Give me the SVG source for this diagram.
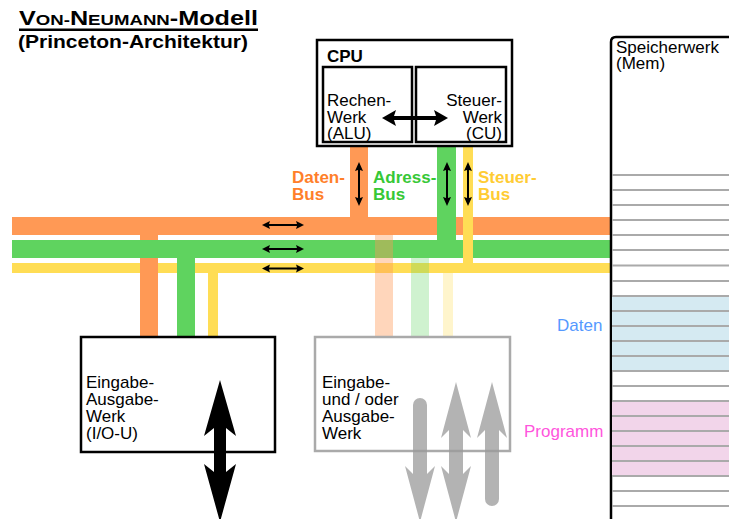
<svg xmlns="http://www.w3.org/2000/svg" width="729" height="519" viewBox="0 0 729 519">
<style>
  text { font-family: "Liberation Sans", Arial, sans-serif; }
  .t { font-size: 17px; fill: #000; }
  .b { font-weight: bold; }
  .box { fill: #fff; stroke: #000; stroke-width: 2.5; }
  .or { fill: #ff9955; }
  .gr { fill: #5fd35f; }
  .ye { fill: #ffdd55; }
  .cell { stroke: #aaaaaa; stroke-width: 1.8; }
  .ga { fill: #999; opacity: 0.75; }
</style>
<defs>
  <polygon id="sarrH" points="-21,0 -13,-4 -14,-1 14,-1 13,-4 21,0 13,4 14,1 -14,1 -13,4" fill="#000"/>
  <polygon id="sarrV" points="0,-22 4,-13 1,-14 1,14 4,13 0,22 -4,13 -1,14 -1,-14 -4,-13" fill="#000"/>
</defs>
<rect width="729" height="519" fill="#fff"/>

<g id="title">
  <text x="19" y="25" class="b" font-size="21" textLength="239" lengthAdjust="spacingAndGlyphs">V<tspan font-size="15.5">ON-</tspan>N<tspan font-size="15.5">EUMANN</tspan>-Modell</text>
  <rect x="19" y="28.5" width="239" height="2.5" fill="#000"/>
  <text x="18" y="48" class="b" font-size="19" textLength="230" lengthAdjust="spacingAndGlyphs">(Princeton-Architektur)</text>
</g>

<g id="connectors">
  <rect x="12" y="263" width="600" height="10" class="ye"/>
  <rect x="140" y="235" width="18" height="102" class="or"/>
  <rect x="12" y="217" width="600" height="18" class="or"/>
  <rect x="12" y="240" width="600" height="18" class="gr"/>
  <rect x="177" y="258" width="18" height="79" class="gr"/>
  <rect x="437" y="146" width="19" height="112" class="gr"/>
  <rect x="463" y="146" width="10" height="127" class="ye"/>
  <rect x="208" y="273" width="10" height="64" class="ye"/>
  <rect x="350" y="146" width="18" height="71" class="or"/>
  <rect x="375" y="235" width="18" height="102" class="or" opacity="0.4"/>
  <rect x="411" y="258" width="18" height="79" class="gr" opacity="0.3"/>
  <rect x="443" y="273" width="10" height="64" class="ye" opacity="0.3"/>
  <use href="#sarrH" x="283" y="225"/>
  <use href="#sarrH" x="283" y="249"/>
  <use href="#sarrH" x="283" y="268.5"/>
  <use href="#sarrV" x="359" y="184"/>
  <use href="#sarrV" x="447" y="184"/>
  <use href="#sarrV" x="468" y="184"/>
  <text x="292" y="183" class="b" font-size="17" fill="#ff7f2a">Daten-</text>
  <text x="292" y="200" class="b" font-size="17" fill="#ff7f2a">Bus</text>
  <text x="373" y="183" class="b" font-size="17" fill="#37c837">Adress-</text>
  <text x="373" y="200" class="b" font-size="17" fill="#37c837">Bus</text>
  <text x="478" y="183" class="b" font-size="17" fill="#ffcc33">Steuer-</text>
  <text x="478" y="200" class="b" font-size="17" fill="#ffcc33">Bus</text>
</g>

<g id="cpu">
  <rect x="317" y="40" width="195" height="106" class="box" stroke-width="3"/>
  <text x="327" y="62" class="t b" font-size="18">CPU</text>
  <g id="alu">
    <rect x="323" y="67" width="89" height="75" class="box" stroke-width="2"/>
    <text x="327" y="106" class="t">Rechen-</text>
    <text x="327" y="122.5" class="t">Werk</text>
    <text x="327" y="139" class="t">(ALU)</text>
  </g>
  <g id="cu">
    <rect x="416" y="67" width="90" height="75" class="box" stroke-width="2"/>
    <text x="502" y="106" class="t" text-anchor="end">Steuer-</text>
    <text x="502" y="122.5" class="t" text-anchor="end">Werk</text>
    <text x="502" y="139" class="t" text-anchor="end">(CU)</text>
  </g>
  <polygon points="382,118 396,110 394,116 436,116 434,110 448,118 434,126 436,120 394,120 396,126" fill="#000"/>
</g>

<g id="memory">
  <path d="M611,525 V42 Q611,37 616,37 H735 V525 Z" fill="#fff" stroke="#000" stroke-width="2.5"/>
  <rect x="612" y="296" width="120" height="75" fill="#d5eaf2"/>
  <rect x="612" y="401" width="120" height="75" fill="#f2d5ea"/>
  <g class="cell">
    <line x1="612" x2="729" y1="175" y2="175"/>
    <line x1="612" x2="729" y1="190" y2="190"/>
    <line x1="612" x2="729" y1="205" y2="205"/>
    <line x1="612" x2="729" y1="220" y2="220"/>
    <line x1="612" x2="729" y1="235" y2="235"/>
    <line x1="612" x2="729" y1="250" y2="250"/>
    <line x1="612" x2="729" y1="265.5" y2="265.5"/>
    <line x1="612" x2="729" y1="281" y2="281"/>
    <line x1="612" x2="729" y1="296" y2="296"/>
    <line x1="612" x2="729" y1="311" y2="311"/>
    <line x1="612" x2="729" y1="326" y2="326"/>
    <line x1="612" x2="729" y1="341" y2="341"/>
    <line x1="612" x2="729" y1="356" y2="356"/>
    <line x1="612" x2="729" y1="371" y2="371"/>
    <line x1="612" x2="729" y1="386" y2="386"/>
    <line x1="612" x2="729" y1="401" y2="401"/>
    <line x1="612" x2="729" y1="416" y2="416"/>
    <line x1="612" x2="729" y1="431" y2="431"/>
    <line x1="612" x2="729" y1="446" y2="446"/>
    <line x1="612" x2="729" y1="461" y2="461"/>
    <line x1="612" x2="729" y1="476" y2="476"/>
    <line x1="612" x2="729" y1="491" y2="491"/>
    <line x1="612" x2="729" y1="506" y2="506"/>
  </g>
  <text x="616" y="53" class="t" font-size="17.5">Speicherwerk</text>
  <text x="616" y="69" class="t" font-size="17.5">(Mem)</text>
  <text x="557" y="331" font-size="17" fill="#5599ff">Daten</text>
  <text x="524" y="437" font-size="17" fill="#ff55dd">Programm</text>
</g>

<g id="io">
  <rect x="81" y="337" width="194" height="115" class="box"/>
  <text x="86" y="388" class="t">Eingabe-</text>
  <text x="86" y="405" class="t">Ausgabe-</text>
  <text x="86" y="422" class="t">Werk</text>
  <text x="86" y="439" class="t">(I/O-U)</text>
  <polygon points="220,380 236,436 226,428 226,472 236,464 220,522 204,464 214,472 214,428 204,436" fill="#000"/>
</g>

<g id="io-optional">
  <rect x="315" y="337" width="195" height="114" fill="none" stroke="#aaa" stroke-width="2.5"/>
  <text x="322" y="388" class="t" fill="#b3b3b3">Eingabe-</text>
  <text x="322" y="405" class="t" fill="#b3b3b3">und / oder</text>
  <text x="322" y="422" class="t" fill="#b3b3b3">Ausgabe-</text>
  <text x="322" y="439" class="t" fill="#b3b3b3">Werk</text>
  <path class="ga" d="M413,405 A7,7 0 0 1 427,405 V474 L435,466 L420,522 L405,466 L413,474 Z"/>
  <path class="ga" d="M456,382 L471,438 L463,430 V474 L471,466 L456,522 L441,466 L449,474 V430 L441,438 Z"/>
  <path class="ga" d="M492,382 L507,438 L499,430 V499 A7,7 0 0 1 485,499 V430 L477,438 Z"/>
</g>
</svg>
